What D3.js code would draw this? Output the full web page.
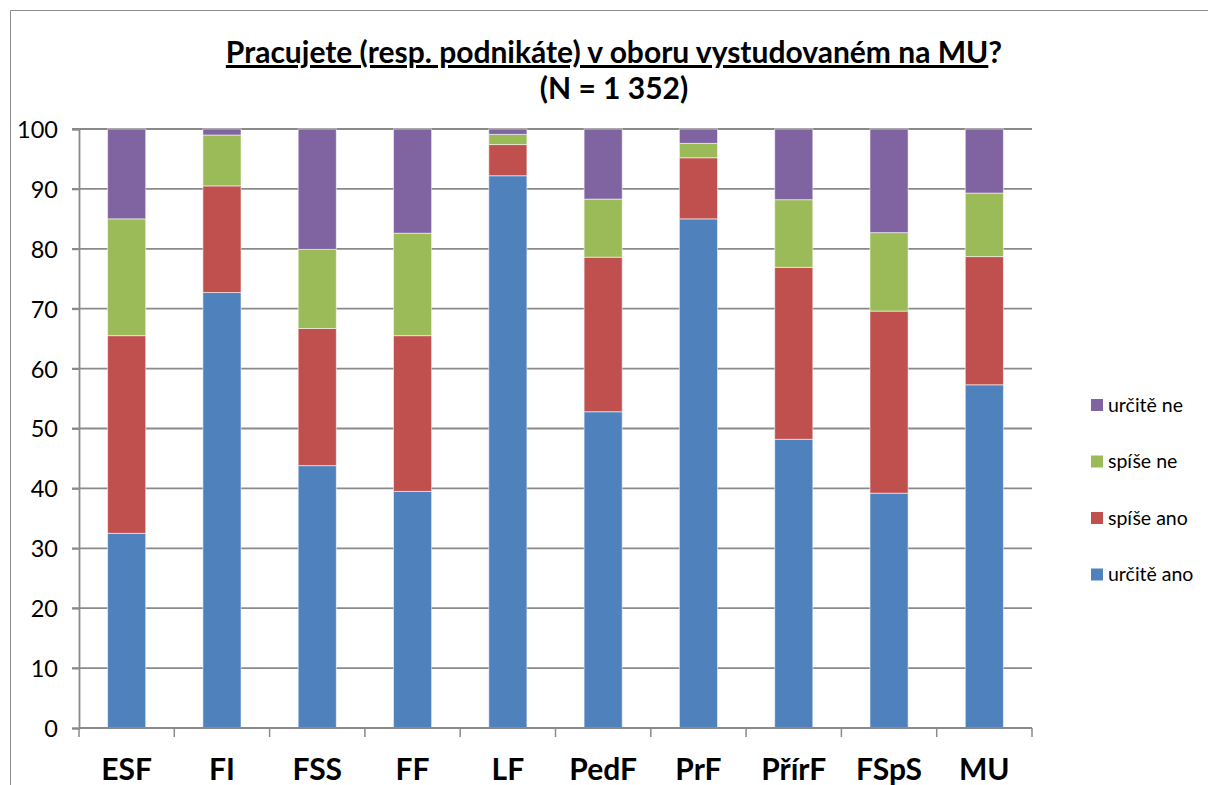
<!DOCTYPE html>
<html>
<head>
<meta charset="utf-8">
<script src="https://cdn.jsdelivr.net/npm/d3@7"></script>
<style>
  html, body { margin: 0; padding: 0; background: #fff; }
  svg { display: block; }
  text { font-family: Lato, "Open Sans", "Liberation Sans", sans-serif; fill: #000; }
</style>
</head>
<body>
<svg id="chart" width="1208" height="785"></svg>
<script>
const categories = ["ESF", "FI", "FSS", "FF", "LF", "PedF", "PrF", "PřírF", "FSpS", "MU"];
const seriesNames = ["určitě ano", "spíše ano", "spíše ne", "určitě ne"];
const urciteAno = [32.5, 72.7, 43.8, 39.5, 92.2, 52.8, 85.0, 48.2, 39.2, 57.3];
const spiseAno  = [33.0, 17.8, 22.9, 26.0,  5.2, 25.8, 10.2, 28.7, 30.4, 21.4];
const spiseNe   = [19.5,  8.5, 13.2, 17.1,  1.7,  9.7,  2.4, 11.3, 13.1, 10.6];
const urciteNe  = [15.0,  1.0, 20.1, 17.4,  0.9, 11.7,  2.4, 11.8, 17.3, 10.7];
const yTicks = [0, 10, 20, 30, 40, 50, 60, 70, 80, 90, 100];
const titleMain = "Pracujete (resp. podnikáte) v oboru vystudovaném na MU";
const titleSub = "(N = 1 352)";
const colors = ["#4F81BD", "#C0504D", "#9BBB59", "#8064A2"];

const seriesValues = [urciteAno, spiseAno, spiseNe, urciteNe];
const rows = categories.map((c, i) => {
  const r = { cat: c };
  seriesNames.forEach((s, k) => r[s] = seriesValues[k][i]);
  return r;
});

const svg = d3.select("#chart");
const W = 1208, H = 785;
const plot = { left: 79, right: 1032, top: 129, bottom: 728 };

// outer frame
svg.append("path")
  .attr("d", `M10.5,${H} L10.5,10.5 L${W},10.5`)
  .attr("fill", "none").attr("stroke", "#8c8c8c").attr("stroke-width", 1);

const x = d3.scaleBand().domain(categories).range([plot.left, plot.right]).paddingInner(0.6).paddingOuter(0.3);
const xOuter = d3.scaleBand().domain(categories).range([plot.left, plot.right]);
const y = d3.scaleLinear().domain([0, 100]).range([plot.bottom, plot.top]);

// gridlines
svg.append("g").selectAll("line").data(yTicks.filter(t => t > 0)).join("line")
  .attr("x1", plot.left - 7).attr("x2", plot.right)
  .attr("y1", d => y(d)).attr("y2", d => y(d))
  .attr("stroke", "#8a8a8a").attr("stroke-width", 1.8);

// stacked bars
const stack = d3.stack().keys(seriesNames)(rows);
svg.append("g").selectAll("g").data(stack).join("g")
  .attr("fill", (d, i) => colors[i])
  .selectAll("rect").data(d => d).join("rect")
  .attr("x", d => x(d.data.cat))
  .attr("width", x.bandwidth())
  .attr("y", d => y(d[1]))
  .attr("height", d => y(d[0]) - y(d[1]))
  .attr("stroke", "#ffffff").attr("stroke-opacity", 0.55).attr("stroke-width", 1);

// y axis
const yAxis = d3.axisLeft(y).tickValues(yTicks).tickSize(7).tickPadding(14);
const gy = svg.append("g").attr("transform", `translate(${plot.left},0)`).call(yAxis);
gy.select(".domain").attr("stroke", "#8a8a8a").attr("stroke-width", 1.8);
gy.selectAll(".tick line").attr("stroke", "#8a8a8a").attr("stroke-width", 1.8);
gy.selectAll(".tick text").style("font-size", "23.5px").style("font-family", "Lato, sans-serif").attr("fill", "#000").attr("dy", "0.36em");

// x axis
const gx = svg.append("g").attr("transform", `translate(0,${plot.bottom})`);
gx.append("line").attr("x1", plot.left).attr("x2", plot.right).attr("y1", 0).attr("y2", 0)
  .attr("stroke", "#8a8a8a").attr("stroke-width", 1.8);
const bounds = categories.map(c => xOuter(c)).concat([plot.right]);
gx.selectAll("line.tk").data(bounds).join("line").attr("class", "tk")
  .attr("x1", d => d).attr("x2", d => d).attr("y1", 0).attr("y2", 9)
  .attr("stroke", "#8a8a8a").attr("stroke-width", 1.5);
gx.selectAll("text").data(categories).join("text")
  .attr("x", d => xOuter(d) + xOuter.bandwidth() / 2)
  .attr("y", 52)
  .attr("text-anchor", "middle")
  .style("font-size", "30px").style("font-weight", "bold")
  .text(d => d);

// title
const t1 = svg.append("text").attr("x", 614).attr("y", 63).attr("text-anchor", "middle")
  .style("font-size", "30px").style("font-weight", "bold");
t1.append("tspan").style("text-decoration", "underline").text(titleMain);
t1.append("tspan").text("?");
svg.append("text").attr("x", 614).attr("y", 99).attr("text-anchor", "middle")
  .style("font-size", "30px").style("font-weight", "bold").text(titleSub);

// legend
const legendOrder = [3, 2, 1, 0];
const lg = svg.append("g");
legendOrder.forEach((k, i) => {
  const cy = 405 + i * 56.5;
  lg.append("rect").attr("x", 1091).attr("y", cy - 6).attr("width", 12).attr("height", 12).attr("fill", colors[k]);
  lg.append("text").attr("x", 1108).attr("y", cy).attr("dy", "0.35em")
    .style("font-size", "19.5px").text(seriesNames[k]);
});
</script>
</body>
</html>
